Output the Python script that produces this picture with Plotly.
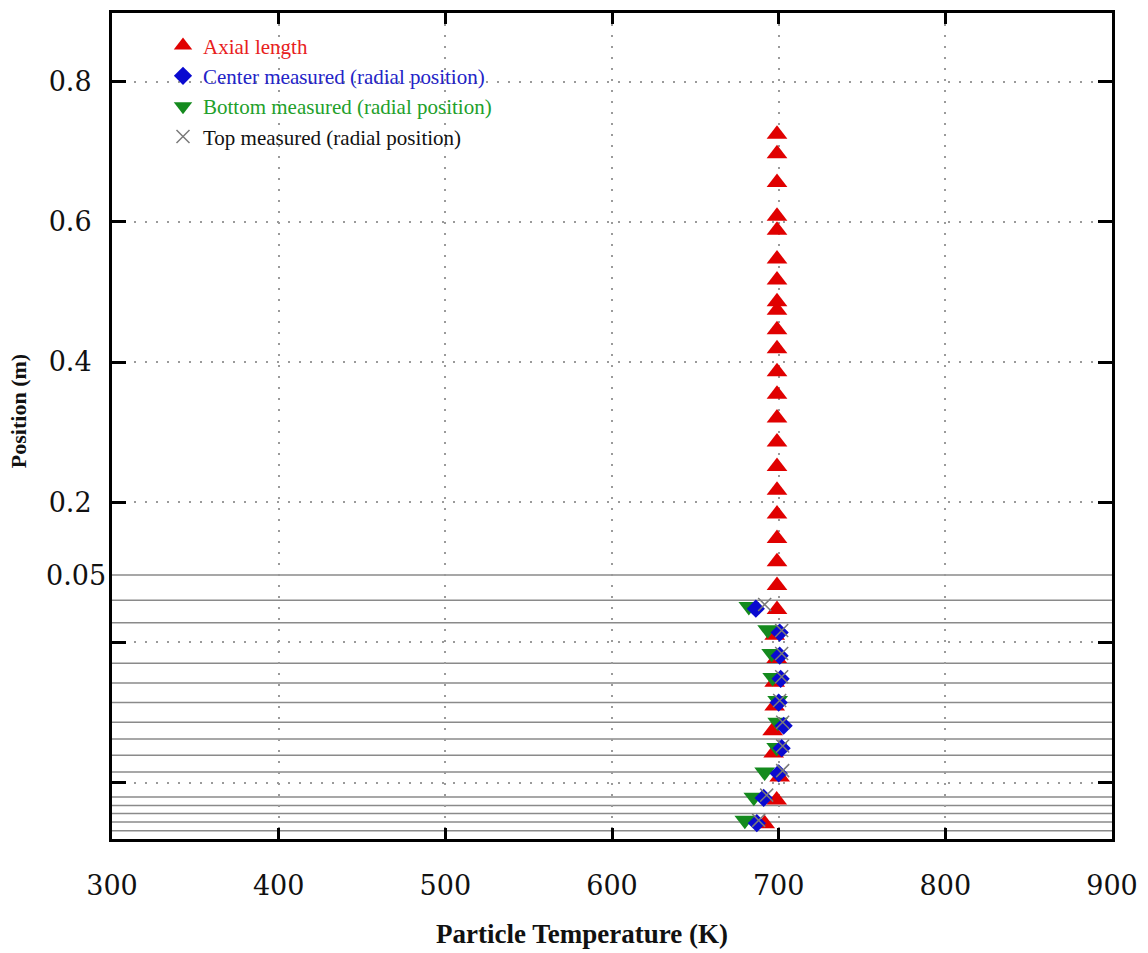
import plotly.graph_objects as go

# ---------------- data (y in axis units of the drawn position scale) ----------------
axial_T = [699, 699, 699, 699, 699, 699, 699, 699, 699, 699, 699,
           699, 699, 699, 699, 699, 699, 699, 699, 699, 699, 699,
           697.6, 698.8, 697.6, 697.6, 696.4, 697, 700.6, 698.8, 691.6]
axial_pos = [0.725, 0.697, 0.656, 0.608, 0.588, 0.547, 0.517, 0.486, 0.474, 0.446, 0.419,
             0.386, 0.354, 0.320, 0.286, 0.251, 0.217, 0.183, 0.148, 0.115, 0.081, 0.047,
             0.010, -0.023, -0.057, -0.091, -0.126, -0.158, -0.192, -0.225, -0.259]

center_T = [686.3, 700.6, 700.6, 701.2, 700.0, 703.0, 701.8, 700.0, 691.0, 686.9]
center_pos = [0.048, 0.014, -0.019, -0.052, -0.086, -0.119, -0.151, -0.187, -0.222, -0.258]

bottom_T = [682.1, 693.4, 695.8, 696.4, 699.4, 699.4, 698.8, 691.6, 685.1, 679.7]
bottom_pos = [0.051, 0.018, -0.016, -0.050, -0.083, -0.114, -0.150, -0.185, -0.221, -0.254]

top_T = [691.6, 701.8, 701.8, 701.8, 700.6, 702.4, 702.4, 702.4, 692.8, 688.0]
top_pos = [0.054, 0.017, -0.016, -0.049, -0.083, -0.114, -0.148, -0.183, -0.218, -0.254]

# layer boundary lines (solid gray) in the lower, bed region
layer_pos = [0.096, 0.060, 0.028, -0.030, -0.058, -0.086, -0.114, -0.138, -0.161,
             -0.185, -0.2205, -0.2327, -0.2441, -0.2565, -0.2688]

x_ticks = [300, 400, 500, 600, 700, 800, 900]
y_tickvals = [0.8, 0.6, 0.4, 0.2, 0.0, -0.2]
y_ticktext = ["0.8", "0.6", "0.4", "0.2", "", ""]
extra_label = "0.05"
extra_label_pos = 0.096

X_RANGE = [300, 900]
Y_RANGE = [-0.2806, 0.898]

SERIF = "Liberation Serif, Times New Roman, serif"
TICKFONT = "DejaVu Serif, serif"

fig = go.Figure()

fig.add_trace(go.Scatter(
    x=axial_T, y=axial_pos, mode="markers",
    name="<span style='color:#e8201c'>Axial length</span>",
    legendrank=1,
    marker=dict(symbol="triangle-up", size=18, color="#e00000",
                line=dict(width=0))))
fig.add_trace(go.Scatter(
    x=bottom_T, y=bottom_pos, mode="markers",
    name="<span style='color:#22a02a'>Bottom measured (radial position)</span>",
    legendrank=3,
    marker=dict(symbol="triangle-down", size=18, color="#148a1e",
                line=dict(width=0))))
fig.add_trace(go.Scatter(
    x=center_T, y=center_pos, mode="markers",
    name="<span style='color:#2424c8'>Center measured (radial position)</span>",
    legendrank=2,
    marker=dict(symbol="diamond", size=14, color="#0a0ad0",
                line=dict(width=0))))
fig.add_trace(go.Scatter(
    x=top_T, y=top_pos, mode="markers",
    name="<span style='color:#111111'>Top measured (radial position)</span>",
    legendrank=4,
    marker=dict(symbol="x-thin-open", size=13, color="#7a7a7a",
                line=dict(width=1.5, color="#7a7a7a"))))

for yp in layer_pos:
    fig.add_shape(type="line", xref="paper", yref="y", x0=0, x1=1, y0=yp, y1=yp,
                  line=dict(color="#8a8a8a", width=1.5), layer="below")

fig.add_annotation(x=0, xref="paper", y=extra_label_pos, yref="y",
                   text=extra_label, showarrow=False, xanchor="right",
                   xshift=-4, font=dict(family=TICKFONT, size=27, color="#111"))

# axis titles
fig.add_annotation(x=0.47, xref="paper", y=-0.094, yref="paper", yanchor="top",
                   text="<b>Particle Temperature (K)</b>", showarrow=False,
                   font=dict(family=SERIF, size=27, color="#111"))
fig.add_annotation(x=-0.094, xref="paper", y=0.518, yref="paper", xanchor="center",
                   text="<b>Position (m)</b>", showarrow=False, textangle=-90,
                   font=dict(family=SERIF, size=22, color="#111"))

fig.update_layout(
    width=1148, height=953,
    margin=dict(l=112, r=31, t=10, b=114),
    paper_bgcolor="white", plot_bgcolor="white",
    showlegend=True,
    legend=dict(x=0.051, y=0.985, xanchor="left", yanchor="top",
                bgcolor="rgba(0,0,0,0)", font=dict(family=SERIF, size=21),
                itemwidth=30, traceorder="normal"),
)

fig.update_xaxes(
    range=X_RANGE, tickvals=x_ticks, ticktext=[str(v) for v in x_ticks],
    showline=True, linecolor="black", linewidth=3, mirror="ticks",
    ticks="inside", ticklen=11, tickwidth=2.5, tickcolor="black",
    showgrid=True, gridcolor="#9a9a9a", gridwidth=1.5, griddash="2px,9px",
    zeroline=False, ticklabelstandoff=21,
    tickfont=dict(family=TICKFONT, size=27, color="#111"),
)
fig.update_yaxes(
    range=Y_RANGE, tickvals=y_tickvals, ticktext=y_ticktext,
    showline=True, linecolor="black", linewidth=3, mirror="ticks",
    ticks="inside", ticklen=14, tickwidth=2.5, tickcolor="black",
    showgrid=True, gridcolor="#9a9a9a", gridwidth=1.5, griddash="2px,9px",
    zeroline=False, ticklabelstandoff=12,
    tickfont=dict(family=TICKFONT, size=27, color="#111"),
)

fig.write_html("out.html")
